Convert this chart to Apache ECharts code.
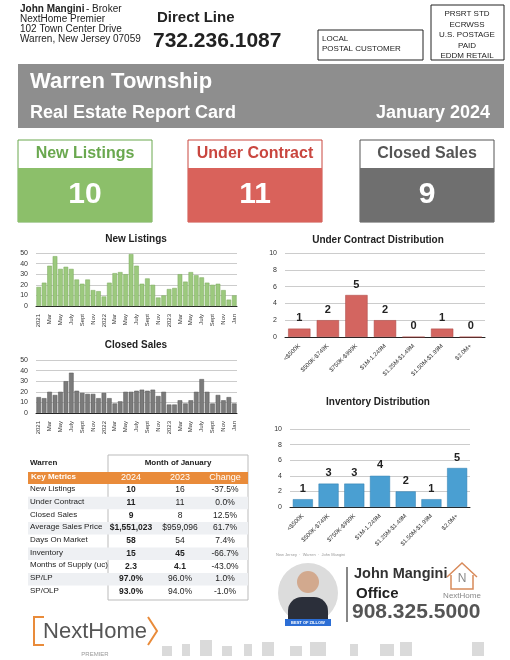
<!DOCTYPE html>
<html><head><meta charset="utf-8">
<script src="https://cdn.jsdelivr.net/npm/echarts@6/dist/echarts.min.js"></script>
<style>html,body{margin:0;padding:0;background:#fff}#c{width:510px;height:660px}</style>
</head><body><div id="c"></div>
<script>
const months = ['2021','Feb','Mar','Apr','May','Jun','July','Aug','Sept','Oct','Nov','Dec','2022','Feb','Mar','Apr','May','Jun','July','Aug','Sept','Oct','Nov','Dec','2023','Feb','Mar','Apr','May','Jun','July','Aug','Sept','Oct','Nov','Dec','Jan'];
const newListings = [18,22,38,47,35,37,35,25,21,25,15,14, 9,22,31,32,30,49,38,21,26,20,8,10, 16,17,30,23,32,29,27,22,20,21,15,6, 10];
const closedSales = [15,14,20,17,20,30,38,21,19,18,18,14, 19,14,9,11,20,20,21,22,21,22,16,20, 8,8,12,9,12,20,32,20,9,17,12,15, 9];
const priceBands = ['<$500K','$500K-$749K','$750K-$999K','$1M-1.249M','$1.25M-$1.49M','$1.50M-$1.99M','$2.0M+'];
const underContractDist = [1,2,5,2,0,1,0];
const inventoryDist = [1,3,3,4,2,1,5];
const tableMetrics = ['New Listings','Under Contract','Closed Sales','Average Sales Price','Days On Market','Inventory','Months of Supply (uc)','SP/LP','SP/OLP'];
const col2024 = ['10','11','9','$1,551,023','58','15','2.3','97.0%','93.0%'];
const col2023 = ['16','11','8','$959,096','54','45','4.1','96.0%','94.0%'];
const colChange = ['-37.5%','0.0%','12.5%','61.7%','7.4%','-66.7%','-43.0%','1.0%','-1.0%'];
const bold2023 = [false,false,false,false,false,true,true,false,false];
const cards = [['New Listings','10','#8cbf6a','#6aa84f'],['Under Contract','11','#d9625b','#c9463f'],['Closed Sales','9','#6f6f6f','#555']];

const F='Liberation Sans, Arial, sans-serif';
const chart = echarts.init(document.getElementById('c'));
const g = [];
const T=(x,y,text,size,opt={})=>g.push({type:'text',x,y,style:Object.assign({text,font:(opt.bold?'bold ':'')+size+'px '+F,fill:opt.fill||'#222',align:opt.align||'left',verticalAlign:opt.va||'middle'},opt.style||{}),z:opt.z||10});
const R=(x,y,w,h,fill,stroke,z)=>g.push({type:'rect',shape:{x,y,width:w,height:h},style:{fill:fill||'none',stroke:stroke||null,lineWidth:1},z:z||1});

// header
T(20,9,'John Mangini',10,{bold:true}); T(86,9,'- Broker',10);
T(20,19,'NextHome Premier',10); T(20,29,'102 Town Center Drive',10); T(20,39,'Warren, New Jersey 07059',10);
T(157,18,'Direct Line',15,{bold:true}); T(153,41,'732.236.1087',21,{bold:true});
R(318,30,105,30,'#fff','#222'); T(322,39,'LOCAL',8); T(322,49,'POSTAL CUSTOMER',8);
R(431,5,73,55,'#fff','#222');
['PRSRT STD','ECRWSS','U.S. POSTAGE','PAID','EDDM RETAIL'].forEach((s,i)=>T(467,14+i*10.5,s,8,{align:'center'}));
R(18,64,486,64,'#8e8e8e');
T(30,82,'Warren Township',22,{bold:true,fill:'#fff'});
T(30,113,'Real Estate Report Card',18,{bold:true,fill:'#fff'});
T(490,113,'January 2024',18,{bold:true,fill:'#fff',align:'right'});
// cards
[18,188,360].forEach((x,i)=>{const c=cards[i];
  R(x,140,134,82,'#fff',c[3]); R(x,168,134,54,c[2]);
  T(x+67,154,c[0],16,{bold:true,fill:i==2?'#555':c[3],align:'center'});
  T(x+67,195,c[1],30,{bold:true,fill:'#fff',align:'center'});
});
// chart titles
T(136,239,'New Listings',10,{bold:true,align:'center'});
T(136,345,'Closed Sales',10,{bold:true,align:'center'});
T(378,240,'Under Contract Distribution',10,{bold:true,align:'center'});
T(378,402,'Inventory Distribution',10,{bold:true,align:'center'});
// table
R(108,455,140,145,'#fff','#bbb');
T(30,463,'Warren',8,{bold:true}); T(178,463,'Month of January',8,{bold:true,align:'center'});
R(28,472,220,12,'#e98b3a',null,2);
T(31,477,'Key Metrics',8,{bold:true,fill:'#fff'});
T(131,478,'2024',9,{fill:'#fff',align:'center'}); T(180,478,'2023',9,{fill:'#fff',align:'center'}); T(225,478,'Change',9,{fill:'#fff',align:'center'});
tableMetrics.forEach((m,i)=>{const y=490+i*12.7;
  if(i%2==1) R(28,y-6,220,12.5,'#eef0f3',null,2);
  T(30,y-1,m,8);
  T(131,y,col2024[i],8.5,{bold:true,align:'center'});
  T(180,y,col2023[i],8.5,{bold:bold2023[i],align:'center'});
  T(225,y,colChange[i],8.5,{align:'center'});
});
// footer
T(276,555,'New Jersey  ·  Warren  ·  John Mangini',4,{fill:'#999'});
g.push({type:'circle',shape:{cx:308,cy:593,r:30},style:{fill:'#dcdcdc'},z:1});
g.push({type:'circle',shape:{cx:308,cy:582,r:11},style:{fill:'#d2a98e'},z:2});
g.push({type:'rect',shape:{x:288,y:597,width:40,height:22,r:[14,14,0,0]},style:{fill:'#2b2f3a'},z:2});
R(285,619,46,7,'#2c6ed5',null,3); T(308,622.5,'BEST OF ZILLOW',4,{bold:true,fill:'#fff',align:'center',z:4});
R(346,567,2,55,'#888',null,2);
T(354,574,'John Mangini',14.5,{bold:true,fill:'#333'});
T(356,594,'Office',15,{bold:true,fill:'#222'});
T(352,612,'908.325.5000',21,{bold:true,fill:'#555'});
g.push({type:'polyline',shape:{points:[[447,577],[462,563],[477,577]]},style:{stroke:'#d88a5a',lineWidth:1.5,fill:'none'},z:3});
g.push({type:'polyline',shape:{points:[[451,575],[451,589],[473,589],[473,575]]},style:{stroke:'#d88a5a',lineWidth:1.5,fill:'none'},z:3});
T(462,579,'N',12,{fill:'#888',align:'center'}); T(462,596,'NextHome',8,{fill:'#888',align:'center'});
// left logo
g.push({type:'polyline',shape:{points:[[44,617],[34,617],[34,645],[44,645]]},style:{stroke:'#e98b3a',lineWidth:2,fill:'none'},z:3});
g.push({type:'polyline',shape:{points:[[148,617],[157,631],[148,645]]},style:{stroke:'#e98b3a',lineWidth:2,fill:'none'},z:3});
T(95,632,'NextHome',22,{fill:'#555',align:'center'});
T(95,654,'PREMIER',6,{fill:'#999',align:'center'});
// houses strip
[[162,5,10],[182,4,12],[200,6,16],[222,5,10],[244,4,12],[262,6,14],[290,6,10],[310,8,14],[350,4,12],[380,7,12],[400,6,14],[472,6,14]].forEach(h=>{
  R(h[0],656-h[2],h[1]*2,h[2],'#dadada');
});

const axLab={fontSize:6,color:'#333',rotate:90,interval:1,fontFamily:F};
const catBase={type:'category',axisTick:{show:false},axisLine:{lineStyle:{color:'#222'}}};
const valBase={type:'value',min:0,max:50,interval:10,axisLabel:{fontSize:7,color:'#333',fontFamily:F},splitLine:{lineStyle:{color:'#aaa',width:0.6}}};
const labTop={show:true,position:'top',fontSize:11,fontWeight:'bold',color:'#222',fontFamily:F};
chart.setOption({
  animation:false,
  grid:[
    {left:36,top:253,width:201,height:53},
    {left:36,top:360,width:201,height:53},
    {left:285,top:253,width:200,height:84},
    {left:290,top:429,width:180,height:78}
  ],
  xAxis:[
    Object.assign({},catBase,{gridIndex:0,data:months,axisLabel:axLab}),
    Object.assign({},catBase,{gridIndex:1,data:months,axisLabel:axLab}),
    Object.assign({},catBase,{gridIndex:2,data:priceBands,axisLabel:{fontSize:6,rotate:45,interval:0,color:'#333',fontFamily:F}}),
    Object.assign({},catBase,{gridIndex:3,data:priceBands,axisLabel:{fontSize:6,rotate:45,interval:0,color:'#333',fontFamily:F}})
  ],
  yAxis:[
    Object.assign({},valBase,{gridIndex:0}),
    Object.assign({},valBase,{gridIndex:1}),
    Object.assign({},valBase,{gridIndex:2,max:10,interval:2}),
    Object.assign({},valBase,{gridIndex:3,max:10,interval:2})
  ],
  series:[
    {type:'bar',xAxisIndex:0,yAxisIndex:0,data:newListings,barCategoryGap:'15%',itemStyle:{color:'#9cc97e',borderColor:'#7aa85c',borderWidth:0.5}},
    {type:'bar',xAxisIndex:1,yAxisIndex:1,data:closedSales,barCategoryGap:'15%',itemStyle:{color:'#7b7b7b',borderColor:'#555',borderWidth:0.5}},
    {type:'bar',xAxisIndex:2,yAxisIndex:2,data:underContractDist,barCategoryGap:'22%',label:labTop,itemStyle:{color:'#d36560',borderColor:'#a94540',borderWidth:0.5}},
    {type:'bar',xAxisIndex:3,yAxisIndex:3,data:inventoryDist,barCategoryGap:'22%',label:labTop,itemStyle:{color:'#4a9fd2',borderColor:'#2f7fb0',borderWidth:0.5}}
  ],
  graphic:{elements:g}
});
</script></body></html>
